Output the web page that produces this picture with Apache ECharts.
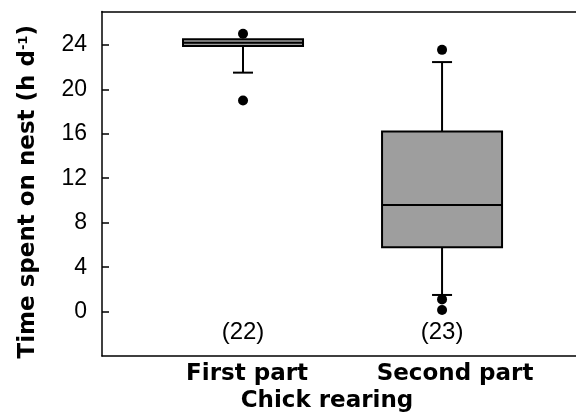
<!DOCTYPE html>
<html>
<head>
<meta charset="utf-8">
<script src="https://cdn.jsdelivr.net/npm/echarts@6/dist/echarts.min.js"></script>
<style>html,body{margin:0;padding:0;background:#fff;}#c{width:576px;height:418px;}</style>
</head>
<body>
<div id="c"></div>
<script>
const categories = ['First part', 'Second part'];
const whiskerLow = [21.5, 1.5];
const q1 = [23.9, 5.8];
const median = [24.2, 9.6];
const q3 = [24.5, 16.2];
const whiskerHigh = [24.5, 22.45];
const outliers = [[25.0, 19.0], [23.55, 1.1, 0.15]];
const counts = [22, 23];
const yTicks = [0, 4, 8, 12, 16, 20, 24];

const boxData = categories.map((c, i) => [i + 1, whiskerLow[i], q1[i], median[i], q3[i], whiskerHigh[i]]);
const outlierData = [];
outliers.forEach((arr, i) => arr.forEach(v => outlierData.push([i + 1, v])));
const COUNT_Y = -1.9;
const countData = counts.map((n, i) => ({ value: [i + 1, COUNT_Y], n: n }));

const BOLD = '"DejaVu Sans", sans-serif';
const REG = '"Liberation Sans", Arial, sans-serif';

function renderBox(params, api) {
  const x = api.value(0);
  const pLo = api.coord([x, api.value(1)]);
  const pQ1 = api.coord([x, api.value(2)]);
  const pMed = api.coord([x, api.value(3)]);
  const pQ3 = api.coord([x, api.value(4)]);
  const pHi = api.coord([x, api.value(5)]);
  const cx = pQ1[0];
  const half = 60, cap = 10;
  const ls = { stroke: '#000', lineWidth: 2 };
  const children = [];
  if (pHi[1] < pQ3[1] - 0.5) {
    children.push({ type: 'line', shape: { x1: cx, y1: pQ3[1], x2: cx, y2: pHi[1] }, style: ls });
    children.push({ type: 'line', shape: { x1: cx - cap, y1: pHi[1], x2: cx + cap, y2: pHi[1] }, style: ls });
  }
  children.push({ type: 'line', shape: { x1: cx, y1: pQ1[1], x2: cx, y2: pLo[1] }, style: ls });
  children.push({ type: 'line', shape: { x1: cx - cap, y1: pLo[1], x2: cx + cap, y2: pLo[1] }, style: ls });
  children.push({ type: 'rect', shape: { x: cx - half, y: pQ3[1], width: 2 * half, height: pQ1[1] - pQ3[1] },
    style: { fill: '#9e9e9e', stroke: '#000', lineWidth: 2 } });
  children.push({ type: 'line', shape: { x1: cx - half, y1: pMed[1], x2: cx + half, y2: pMed[1] }, style: ls });
  return { type: 'group', children: children };
}

const labelStyle = { fontFamily: BOLD, fontWeight: 'bold', fontSize: 23, color: '#000' };

const chart = echarts.init(document.getElementById('c'), null, { renderer: 'canvas' });
chart.setOption({
  animation: false,
  backgroundColor: '#fff',
  grid: { left: 102, top: 11.5, bottom: 60.5, right: 0, show: false },
  xAxis: [{
    type: 'value', min: 0.2915, max: 2.673,
    splitLine: { show: false },
    axisLine: { show: true, onZero: false, lineStyle: { color: '#000', width: 1.5 } },
    axisTick: { show: false },
    axisLabel: {
      customValues: [1, 2],
      formatter: v => {
        const i = Math.round(v) - 1;
        return '{c' + i + '|' + (categories[i] || '') + '}';
      },
      margin: 6,
      rich: {
        c0: Object.assign({ padding: [0, 0, 0, 8] }, labelStyle),
        c1: Object.assign({ padding: [0, 0, 0, 26] }, labelStyle)
      }
    },
    name: 'Chick rearing', nameLocation: 'middle', nameGap: 32,
    nameTextStyle: Object.assign({ padding: [0, 24, 0, 0] }, labelStyle)
  }, {
    type: 'value', min: 0.2915, max: 2.673, position: 'top',
    splitLine: { show: false },
    axisLine: { show: true, onZero: false, lineStyle: { color: '#000', width: 1.5 } },
    axisTick: { show: false }, axisLabel: { show: false }
  }],
  yAxis: {
    type: 'value', min: -4, max: 27,
    splitLine: { show: false },
    axisLine: { show: true, onZero: false, lineStyle: { color: '#000', width: 1.5 } },
    axisTick: { show: true, inside: true, length: 7, customValues: yTicks, lineStyle: { color: '#000', width: 1.5 } },
    axisLabel: { customValues: yTicks, fontFamily: REG, fontSize: 23, color: '#000', margin: 15 },
    name: 'Time spent on nest (h d{sup|-1})', nameLocation: 'middle', nameRotate: 90, nameGap: 62,
    nameTextStyle: {
      fontFamily: BOLD, fontWeight: 'bold', fontSize: 23, color: '#000', padding: [0, 16, 0, 0],
      rich: { sup: { fontFamily: BOLD, fontWeight: 'bold', fontSize: 13, verticalAlign: 'top', color: '#000', padding: [0, 0, 10, 0] } }
    }
  },
  series: [
    { type: 'custom', renderItem: renderBox, data: boxData, encode: { x: 0, y: [1, 2, 3, 4, 5] }, z: 2 },
    { type: 'scatter', data: outlierData, symbol: 'circle', symbolSize: 10, itemStyle: { color: '#000', opacity: 1 }, z: 3 },
    { type: 'scatter', data: countData, symbolSize: 0, z: 3, itemStyle: { opacity: 1 },
      label: { show: true, position: 'inside', formatter: p => '(' + p.data.n + ')', fontFamily: REG, fontSize: 24, color: '#000', opacity: 1 } }
  ]
});
</script>
</body>
</html>
